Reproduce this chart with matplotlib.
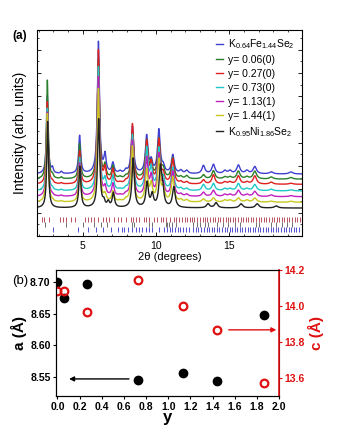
import numpy as np
import matplotlib
matplotlib.use("Agg")
import matplotlib.pyplot as plt
from matplotlib.ticker import MultipleLocator, FormatStrFormatter, NullFormatter

plt.rcParams["font.family"] = ["Liberation Sans", "DejaVu Sans"]
plt.rcParams["mathtext.fontset"] = "custom"
plt.rcParams["mathtext.rm"] = "Liberation Sans"

# ---- panel (a): XRD patterns (peak positions / heights)
labels = ["K$_{0.64}$Fe$_{1.44}$Se$_2$", "y= 0.06(0)", "y= 0.27(0)", "y= 0.73(0)",
          "y= 1.13(1)", "y= 1.44(1)", "K$_{0.95}$Ni$_{1.86}$Se$_2$"]
colors = ["#4040d0", "#2a7f2a", "#e02020", "#20c8c8", "#c020c0", "#c8c820", "#202020"]
baselines = [30.0, 27.5, 25.0, 21.8, 19.0, 16.3, 13.5]

peak_pos = [2.60, 2.95, 3.55, 4.80, 6.08, 6.53, 7.07, 7.55, 7.95, 8.40, 9.37, 9.68, 10.20,
            10.50, 11.15, 11.70, 12.10, 13.24, 13.92, 14.70, 15.05, 15.62, 16.20, 16.74,
            17.86, 19.20]
h_blue    = [38, 2.5, 1.0, 18.5, 64, 8.5, 5, 1.0, 1.5, 23, 18, 5.5, 21, 3, 9, 1.5, 1.5,
             4, 4.5, 1.5, 1.5, 4.2, 1.5, 3.5, 1.0, 1.0]
h_green   = [48, 1.5, 0.8, 17, 58, 6, 6, 0.8, 1, 23, 18, 7, 19, 4, 10, 1, 1.5,
             2, 4, 1, 1, 3.8, 1, 3.8, 1, 0.8]
h_red     = [40, 1, 0.5, 16, 65, 7, 7, 0.5, 1, 29, 20, 9, 21, 4, 12, 1, 1,
             2, 4.5, 1, 1, 4, 1, 4, 1, 0.5]
h_cyan    = [40, 0.8, 0.5, 16, 60, 5, 7, 0.5, 1, 27, 20, 10, 20, 5, 11, 1, 1,
             3, 3.5, 1, 1, 3.5, 1, 3, 0.8, 0.5]
h_magenta = [41, 0.5, 0.5, 16, 58, 4, 6, 0.5, 1, 27, 18, 9, 20, 5, 12, 1, 1,
             2, 3, 1, 1, 3, 1, 2.5, 0.8, 0.5]
h_yellow  = [43, 0.5, 0.5, 17, 55, 3, 5, 0.5, 1, 27, 15, 8, 20, 6, 12, 1, 1,
             1.5, 2, 1, 1, 2, 1, 2, 0.5, 0.5]
black_pos = [2.62, 4.82, 6.10, 6.45, 6.75, 7.10, 8.45, 9.40, 9.75, 10.30, 10.45, 11.22,
             13.55, 14.10, 15.80, 16.90, 18.20]
h_black   = [42, 20, 43, 2.5, 2.5, 7, 24, 12, 6, 18, 8, 10, 2, 2.5, 2, 2, 1]

red_ticks = [2.25, 2.38, 2.70, 3.45, 3.67, 3.90, 4.24, 4.50, 5.14, 5.36, 5.59, 5.81, 6.03,
             6.37, 6.60, 6.82, 7.16, 7.39, 7.61, 7.95, 8.29, 8.45, 8.63, 8.85, 9.19, 9.35,
             9.53, 9.86, 10.09, 10.32, 10.50, 10.66, 10.99, 11.22, 11.40, 11.55, 11.78,
             11.95, 12.11, 12.30, 12.45, 12.62, 12.79, 13.02, 13.24, 13.36, 13.50, 13.68,
             13.90, 14.05, 14.22, 14.40, 14.58, 14.75, 14.90, 15.08, 15.25, 15.42, 15.60,
             15.78, 15.95, 16.12, 16.30, 16.48, 16.65, 16.82, 17.00, 17.18, 17.35, 17.52,
             17.70, 17.88, 18.05, 18.22, 18.40, 18.58, 18.75, 18.92, 19.10, 19.28, 19.45,
             19.62, 19.80]
gray_ticks = [2.43, 3.90, 5.00, 5.80, 6.26, 6.70, 8.40, 8.52, 9.50, 9.75, 10.66, 10.77,
              10.88, 11.10, 11.40, 12.50, 12.80, 13.00, 13.36, 13.58, 14.13, 14.58, 14.91,
              15.36, 15.70, 16.82, 17.04, 17.83, 18.17, 18.60, 18.95, 19.28]
blue_ticks = [3.00, 4.68, 5.36, 5.92, 6.37, 6.94, 7.39, 7.66, 7.85, 8.08, 8.40, 8.63, 8.85,
              9.08, 9.30, 9.53, 9.75, 10.20, 10.55, 10.75, 10.95, 11.10, 11.30, 11.50,
              11.65, 11.85, 12.05, 12.25, 12.50, 12.70, 12.90, 13.10, 13.28, 13.45, 13.62,
              13.80, 13.98, 14.15, 14.33, 14.50, 14.68, 14.85, 15.02, 15.20, 15.38, 15.55,
              15.72, 15.90, 16.08, 16.25, 16.42, 16.60, 16.78, 16.95, 17.12, 17.30, 17.48,
              17.65, 17.82, 18.00, 18.18, 18.35, 18.52, 18.70, 18.88, 19.05, 19.22, 19.40,
              19.58, 19.75]

# ---- panel (b): lattice parameters
y_comp = [0.0, 0.06, 0.27, 0.73, 1.13, 1.44, 1.86]
a_latt = [8.700, 8.675, 8.697, 8.546, 8.556, 8.544, 8.648]
c_latt = [14.083, 14.083, 13.967, 14.145, 14.000, 13.868, 13.570]


def pattern(x, pos, hts):
    y = np.zeros_like(x)
    for p, h in zip(pos, hts):
        g = 0.055 + 0.005 * p
        y += h * g**2 / ((x - p)**2 + g**2)
    return y


fig = plt.figure(figsize=(3.4, 4.4), dpi=100)

ax = fig.add_axes([0.109, 0.464, 0.779, 0.468])
x = np.linspace(1.9, 19.95, 4000)
heights = [h_blue, h_green, h_red, h_cyan, h_magenta, h_yellow]
for i in range(6):
    ax.plot(x, baselines[i] + pattern(x, peak_pos, heights[i]), color=colors[i],
            lw=1.0, label=labels[i])
ax.plot(x, baselines[6] + pattern(x, black_pos, h_black), color=colors[6], lw=1.0,
        label=labels[6])

ax.vlines(red_ticks, 6.6, 9.0, color="#b85060", lw=0.7)
ax.vlines(gray_ticks, 4.4, 6.6, color="#707070", lw=0.7)
ax.vlines(blue_ticks, 2.0, 4.3, color="#5050d0", lw=0.7)

ax.set_xlim(1.9, 19.95)
ax.set_ylim(0, 100)
ax.xaxis.set_major_locator(MultipleLocator(5))
ax.xaxis.set_minor_locator(MultipleLocator(1))
ax.yaxis.set_major_locator(MultipleLocator(11.3))
ax.yaxis.set_minor_locator(MultipleLocator(11.3 / 2))
ax.yaxis.set_major_formatter(NullFormatter())
ax.tick_params(which="both", direction="in", top=True, right=True, labelsize=7.5)
ax.tick_params(which="major", length=3, width=0.6)
ax.tick_params(which="minor", length=1.5, width=0.5)
for s in ax.spines.values():
    s.set_linewidth(0.8)
ax.set_xlabel("2θ (degrees)", fontsize=8, labelpad=1)
ax.set_ylabel("Intensity (arb. units)", fontsize=10, labelpad=4)
ax.legend(loc="upper right", frameon=False, fontsize=7.5, handlelength=0.7,
          handletextpad=0.5, labelspacing=0.38, borderaxespad=0.3)
fig.text(0.035, 0.912, "(a)", fontsize=8.5, fontweight="bold")

# ---- panel (b)
bx = fig.add_axes([0.165, 0.1, 0.656, 0.286])
bx.plot(y_comp, a_latt, "o", color="black", ms=6)
bx.set_xlim(-0.012, 2.0)
bx.set_ylim(8.52, 8.719)
bx.xaxis.set_major_locator(MultipleLocator(0.2))
bx.xaxis.set_major_formatter(FormatStrFormatter("%.1f"))
bx.yaxis.set_major_locator(MultipleLocator(0.05))
bx.yaxis.set_major_formatter(FormatStrFormatter("%.2f"))
bx.tick_params(labelsize=7.5, length=2.5, width=0.8, pad=1.5)
for t in bx.get_xticklabels() + bx.get_yticklabels():
    t.set_fontweight("bold")
bx.set_xlabel("y", fontsize=12, fontweight="bold", labelpad=-1)
bx.set_ylabel("a (Å)", fontsize=11, fontweight="bold", labelpad=2)
bx.annotate("", xy=(0.08, 8.547), xytext=(0.67, 8.547),
            arrowprops=dict(arrowstyle="-|>", color="black", lw=1.0, mutation_scale=7))

cx = bx.twinx()
cx.plot(y_comp, c_latt, "o", mfc="none", mec="#e01010", mew=1.6, ms=5.5)
cx.set_ylim(13.5, 14.2)
cx.yaxis.set_major_locator(MultipleLocator(0.2))
cx.yaxis.set_major_formatter(FormatStrFormatter("%.1f"))
cx.tick_params(axis="y", colors="#e01010", labelsize=7.5, length=2.5, width=0.8, pad=1.5)
for t in cx.get_yticklabels():
    t.set_fontweight("bold")
cx.spines["right"].set_color("#e01010")
cx.spines["right"].set_linewidth(1.2)
cx.set_ylabel("c (Å)", fontsize=11, fontweight="bold", color="#e01010",
              rotation=90, labelpad=2)
cx.annotate("", xy=(2.0, 13.868), xytext=(1.52, 13.868),
            arrowprops=dict(arrowstyle="-|>", color="#e01010", lw=1.0, mutation_scale=7))
fig.text(0.035, 0.355, "(b)", fontsize=9.5)

fig.savefig("out.png", dpi=100)
